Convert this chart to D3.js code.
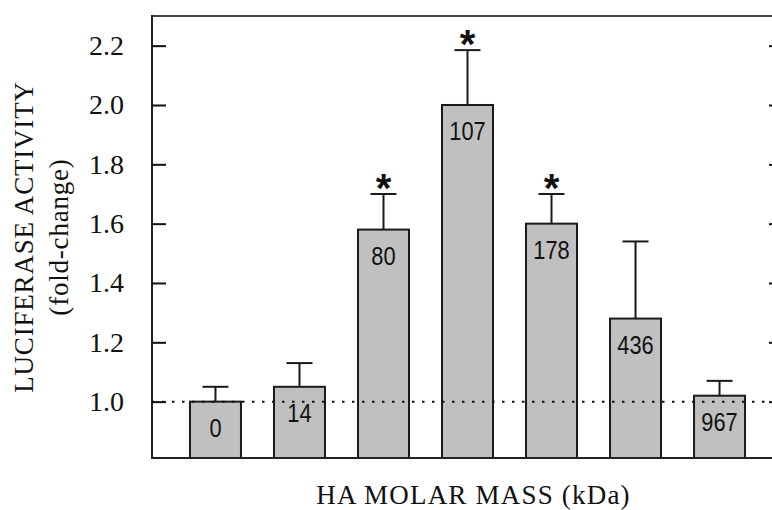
<!DOCTYPE html>
<html>
<head>
<meta charset="utf-8">
<script src="https://cdn.jsdelivr.net/npm/d3@7"></script>
<style>
  body { margin: 0; background: #fff; }
  svg { display: block; }
</style>
</head>
<body>
<div id="chart"></div>
<script>
// data
const molarMass = ["0", "14", "80", "107", "178", "436", "967"];
const foldChange = [1.00, 1.05, 1.58, 2.00, 1.60, 1.28, 1.02];
const errorTop = [1.05, 1.13, 1.70, 2.185, 1.70, 1.54, 1.07];
const significant = [false, false, true, true, true, false, false];
const yTicks = [1.0, 1.2, 1.4, 1.6, 1.8, 2.0, 2.2];

const width = 772;
const height = 510;
const plot = { left: 152, right: 783, top: 16, bottom: 458 };

const svg = d3.select("#chart")
    .append("svg")
    .attr("width", width)
    .attr("height", height);

const x = d3.scaleBand()
    .domain(molarMass)
    .range([plot.left, plot.right])
    .paddingInner(0.393)
    .paddingOuter(0.452);

const y = d3.scaleLinear()
    .domain([0.81, 2.30])
    .range([plot.bottom, plot.top]);

const rows = molarMass.map((m, i) => ({
    m: m, v: foldChange[i], err: errorTop[i], sig: significant[i]
}));

const cx = d => x(d.m) + x.bandwidth() / 2;

// error bars (behind bars)
const errG = svg.append("g")
    .attr("stroke", "#1a1a1a")
    .attr("stroke-width", 2);

errG.selectAll(".stem")
    .data(rows)
    .enter().append("line")
    .attr("x1", cx)
    .attr("x2", cx)
    .attr("y1", d => y(d.v))
    .attr("y2", d => y(d.err));

errG.selectAll(".cap")
    .data(rows)
    .enter().append("line")
    .attr("x1", d => cx(d) - 13)
    .attr("x2", d => cx(d) + 13)
    .attr("y1", d => y(d.err))
    .attr("y2", d => y(d.err));

// bars
svg.selectAll(".bar")
    .data(rows)
    .enter().append("rect")
    .attr("class", "bar")
    .attr("x", d => x(d.m))
    .attr("y", d => y(d.v))
    .attr("width", x.bandwidth())
    .attr("height", d => plot.bottom - y(d.v))
    .attr("fill", "#c0c0c0")
    .attr("stroke", "#1a1a1a")
    .attr("stroke-width", 2);

// dotted reference line at 1.0
svg.append("line")
    .attr("x1", plot.left)
    .attr("x2", plot.right)
    .attr("y1", y(1.0))
    .attr("y2", y(1.0))
    .attr("stroke", "#111")
    .attr("stroke-width", 2)
    .attr("stroke-dasharray", "2.5,7.5");

// labels inside bars (narrow look: squeeze horizontally)
svg.selectAll(".bar-label")
    .data(rows)
    .enter().append("text")
    .attr("class", "bar-label")
    .attr("transform", d => `translate(${cx(d)},${Math.min(y(d.v) + 35, plot.bottom - 20)}) scale(0.84,1)`)
    .attr("text-anchor", "middle")
    .attr("font-family", "'Liberation Sans', Arial, sans-serif")
    .attr("font-size", 26)
    .attr("fill", "#111")
    .text(d => d.m);

// significance stars
svg.selectAll(".star")
    .data(rows.filter(d => d.sig))
    .enter().append("text")
    .attr("class", "star")
    .attr("x", cx)
    .attr("y", d => y(d.err) + 8)
    .attr("text-anchor", "middle")
    .attr("font-family", "'Liberation Sans', Arial, sans-serif")
    .attr("font-weight", "bold")
    .attr("font-size", 40)
    .attr("fill", "#111")
    .text("*");

// frame
const frame = svg.append("g")
    .attr("stroke", "#222")
    .attr("stroke-width", 2)
    .attr("fill", "none");
frame.append("path")
    .attr("d", `M${plot.left},${plot.top}H${plot.right}`)
    .attr("stroke", "#444");
frame.append("path")
    .attr("d", `M${plot.left},${plot.top - 1}V${plot.bottom}H${plot.right}V${plot.top}`);

// y axis left (ticks inward)
const yAxis = svg.append("g")
    .attr("transform", `translate(${plot.left},0)`)
    .call(d3.axisLeft(y).tickValues(yTicks).tickSize(-14).tickPadding(28).tickFormat(d3.format(".1f")));
yAxis.select(".domain").remove();
yAxis.selectAll(".tick line").attr("stroke", "#111").attr("stroke-width", 2);
yAxis.selectAll(".tick text")
    .attr("font-family", "'Liberation Serif', 'Times New Roman', serif")
    .attr("font-size", 28)
    .attr("fill", "#111");

// y axis right (ticks inward)
const yAxisR = svg.append("g")
    .attr("transform", `translate(${plot.right},0)`)
    .call(d3.axisRight(y).tickValues(yTicks).tickSize(-14).tickFormat(""));
yAxisR.select(".domain").remove();
yAxisR.selectAll(".tick line").attr("stroke", "#111").attr("stroke-width", 2);

// axis titles
const yTitle = svg.append("text")
    .attr("transform", `translate(33,${(plot.top + plot.bottom) / 2}) rotate(-90)`)
    .attr("text-anchor", "middle")
    .attr("font-family", "'Liberation Serif', 'Times New Roman', serif")
    .attr("font-size", 27)
    .attr("letter-spacing", 0.8)
    .attr("fill", "#111");
yTitle.append("tspan").attr("x", 0).attr("dy", 0).text("LUCIFERASE ACTIVITY");
yTitle.append("tspan").attr("x", 0).attr("dy", 35).text("(fold-change)");

svg.append("text")
    .attr("x", (plot.left + plot.right) / 2 + 6)
    .attr("y", 504)
    .attr("text-anchor", "middle")
    .attr("font-family", "'Liberation Serif', 'Times New Roman', serif")
    .attr("font-size", 27)
    .attr("letter-spacing", 1.2)
    .attr("fill", "#111")
    .text("HA MOLAR MASS (kDa)");
</script>
</body>
</html>
